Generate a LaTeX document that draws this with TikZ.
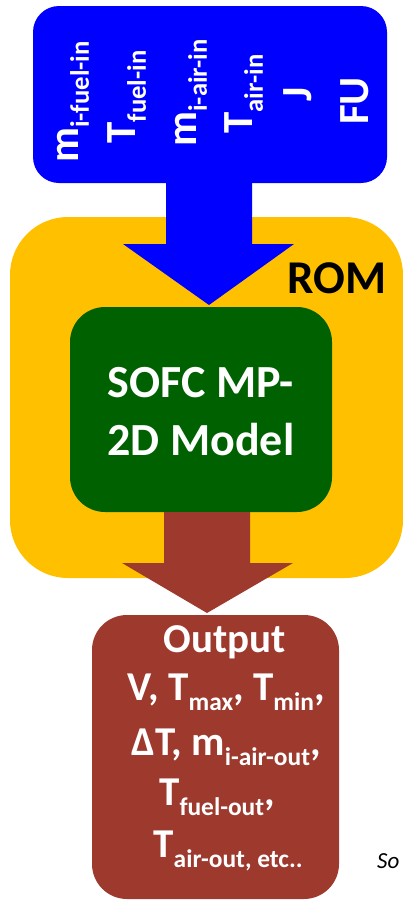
\documentclass[tikz,border=0pt]{standalone}
\usepackage{fontspec}
\usepackage{graphicx}
\setmainfont{Carlito}
\usetikzlibrary{calc}
\definecolor{inblue}{RGB}{0,0,255}
\definecolor{romorange}{RGB}{255,192,0}
\definecolor{modgreen}{RGB}{0,97,0}
\definecolor{outbrown}{RGB}{158,57,46}
\newcommand{\sbx}[1]{\raisebox{-0.25em}{\scalebox{0.62}{#1}}}
\begin{document}
\begin{tikzpicture}[x=1pt,y=-1pt,
  box/.style={rectangle, inner sep=0pt, outer sep=0pt},
  intext/.style={text=white, font=\fontsize{43}{50}\selectfont\bfseries, rotate=90, anchor=base, inner sep=0pt},
  outtext/.style={text=white, font=\fontsize{41}{48}\selectfont\bfseries, anchor=base, inner sep=0pt},
  modtext/.style={text=white, font=\fontsize{46}{55}\selectfont\bfseries, anchor=base, inner sep=0pt}]
\useasboundingbox (0,0) rectangle (403,900);
% boxes
\node[box, fill=romorange, rounded corners=58pt, minimum width=393pt, minimum height=361pt] (rom) at (206.5,397.5) {};
\node[box, fill=modgreen, rounded corners=35pt, minimum width=262pt, minimum height=205pt] (model) at (201,409.5) {};
\node[box, fill=inblue, rounded corners=26pt, minimum width=354pt, minimum height=177pt] (in) at (210,94.5) {};
\node[box, fill=outbrown, rounded corners=35pt, minimum width=247pt, minimum height=284pt] (out) at (215.5,757) {};
% blue block arrow
\coordinate (bL) at (166,244);
\coordinate (bR) at (252,244);
\coordinate (bHL) at (123,244);
\coordinate (bHR) at (294,244);
\coordinate (bTip) at (209,305);
\fill[inblue] (in.south -| bL) -- (in.south -| bR) -- (bR) -- (bHR) -- ($(model.north -| bTip)+(0,-2)$) -- (bHL) -- (bL) -- cycle;
% brown block arrow
\coordinate (rL) at (164,563);
\coordinate (rR) at (250,563);
\coordinate (rHL) at (122,563);
\coordinate (rHR) at (293,563);
\coordinate (rTip) at (207,613);
\fill[outbrown] (model.south -| rL) -- (model.south -| rR) -- (rR) -- (rHR) -- ($(out.north -| rTip)+(0,-2)$) -- (rHL) -- (rL) -- cycle;
% input texts
\node[intext] (t1) at (78,102) {m\sbx{i-fuel-in}};
\node[intext] (t2) at (135,97) {T\sbx{fuel-in}};
\node[intext] (t3) at (196,93) {m\sbx{i-air-in}};
\node[intext] (t4) at (252,94) {T\sbx{air-in}};
\node[intext] (t5) at (311,94) {J};
\node[intext] (t6) at (368,101) {FU};
% ROM
\node[anchor=base west, inner sep=0pt, font=\fontsize{47}{55}\selectfont\bfseries] (romlabel) at (287,293) {ROM};
% model
\node[modtext] (m1) at (201,397) {SOFC MP-};
\node[modtext] (m2) at (201,455) {2D Model};
% output
\node[outtext] (o1) at (225,652) {Output};
\node[outtext] (o2) at (226,700) {V, T\sbx{max}, T\sbx{min},};
\node[outtext] (o3) at (226,755) {ΔT, m\sbx{i-air-out},};
\node[outtext] (o4) at (217,805) {T\sbx{fuel-out},};
\node[outtext] (o5) at (228,857) {T\sbx{air-out, etc..}};
% source
\node[anchor=base west, inner sep=0pt, font=\fontsize{23}{27}\selectfont\itshape] (src) at (377,868) {So};
\end{tikzpicture}
\end{document}
